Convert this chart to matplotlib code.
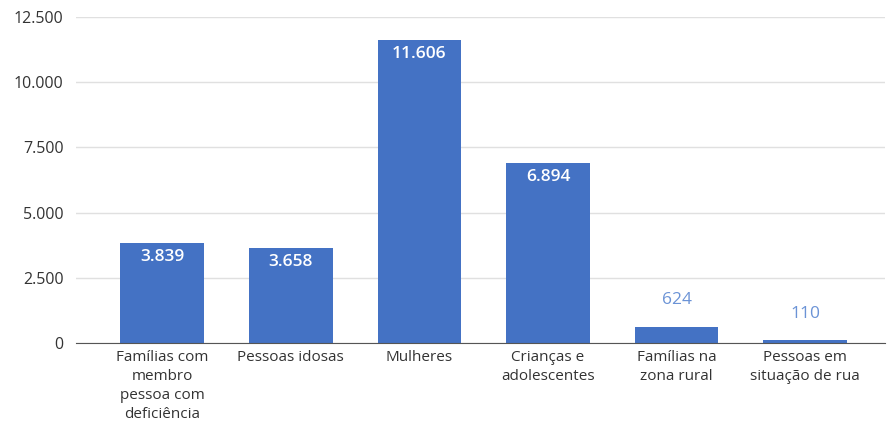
import matplotlib
matplotlib.use("Agg")
from matplotlib import pyplot as plt
from matplotlib.ticker import FuncFormatter

categorias = [
    "Famílias com\nmembro\npessoa com\ndeficiência",
    "Pessoas idosas",
    "Mulheres",
    "Crianças e\nadolescentes",
    "Famílias na\nzona rural",
    "Pessoas em\nsituação de rua",
]
valores = [3839, 3658, 11606, 6894, 624, 110]
yticks = [0, 2500, 5000, 7500, 10000, 12500]


def fmt(v):
    return f"{int(v):,}".replace(",", ".")


plt.rcParams['font.family'] = ['Open Sans', 'DejaVu Sans']

fig = plt.figure(figsize=(8.9, 4.25), dpi=100)
ax = fig.add_axes([0.0854, 0.193, 0.909, 0.767])

x = range(len(categorias))
barras = ax.bar(x, valores, width=0.65, color='#4472c4', zorder=3)

for b, v in zip(barras, valores):
    cx = b.get_x() + b.get_width() / 2
    if v > 2000:
        ax.text(cx, v - 230, fmt(v), ha='center', va='top', color='white',
                fontsize=12.5, fontweight='semibold', zorder=4)
    else:
        ax.text(cx, v + 700, fmt(v), ha='center', va='bottom', color='#6b93d6',
                fontsize=12.5, zorder=4)

ax.set_ylim(0, 12500)
ax.set_xlim(-0.67, 5.62)
ax.set_yticks(yticks)
ax.yaxis.set_major_formatter(FuncFormatter(lambda v, p: fmt(v)))
ax.set_xticks(list(x))
ax.set_xticklabels(categorias, fontsize=11, color='#333333', linespacing=1.38)
ax.tick_params(axis='y', labelsize=11.5, labelcolor='#333333', length=0, pad=9)
ax.tick_params(axis='x', length=0, pad=5)

ax.grid(axis='y', color='#e0e0e0', linewidth=1, zorder=0)
for s in ['top', 'right', 'left']:
    ax.spines[s].set_visible(False)
ax.spines['bottom'].set_color('#555555')
ax.spines['bottom'].set_zorder(5)

fig.savefig("out.png", dpi=100)
